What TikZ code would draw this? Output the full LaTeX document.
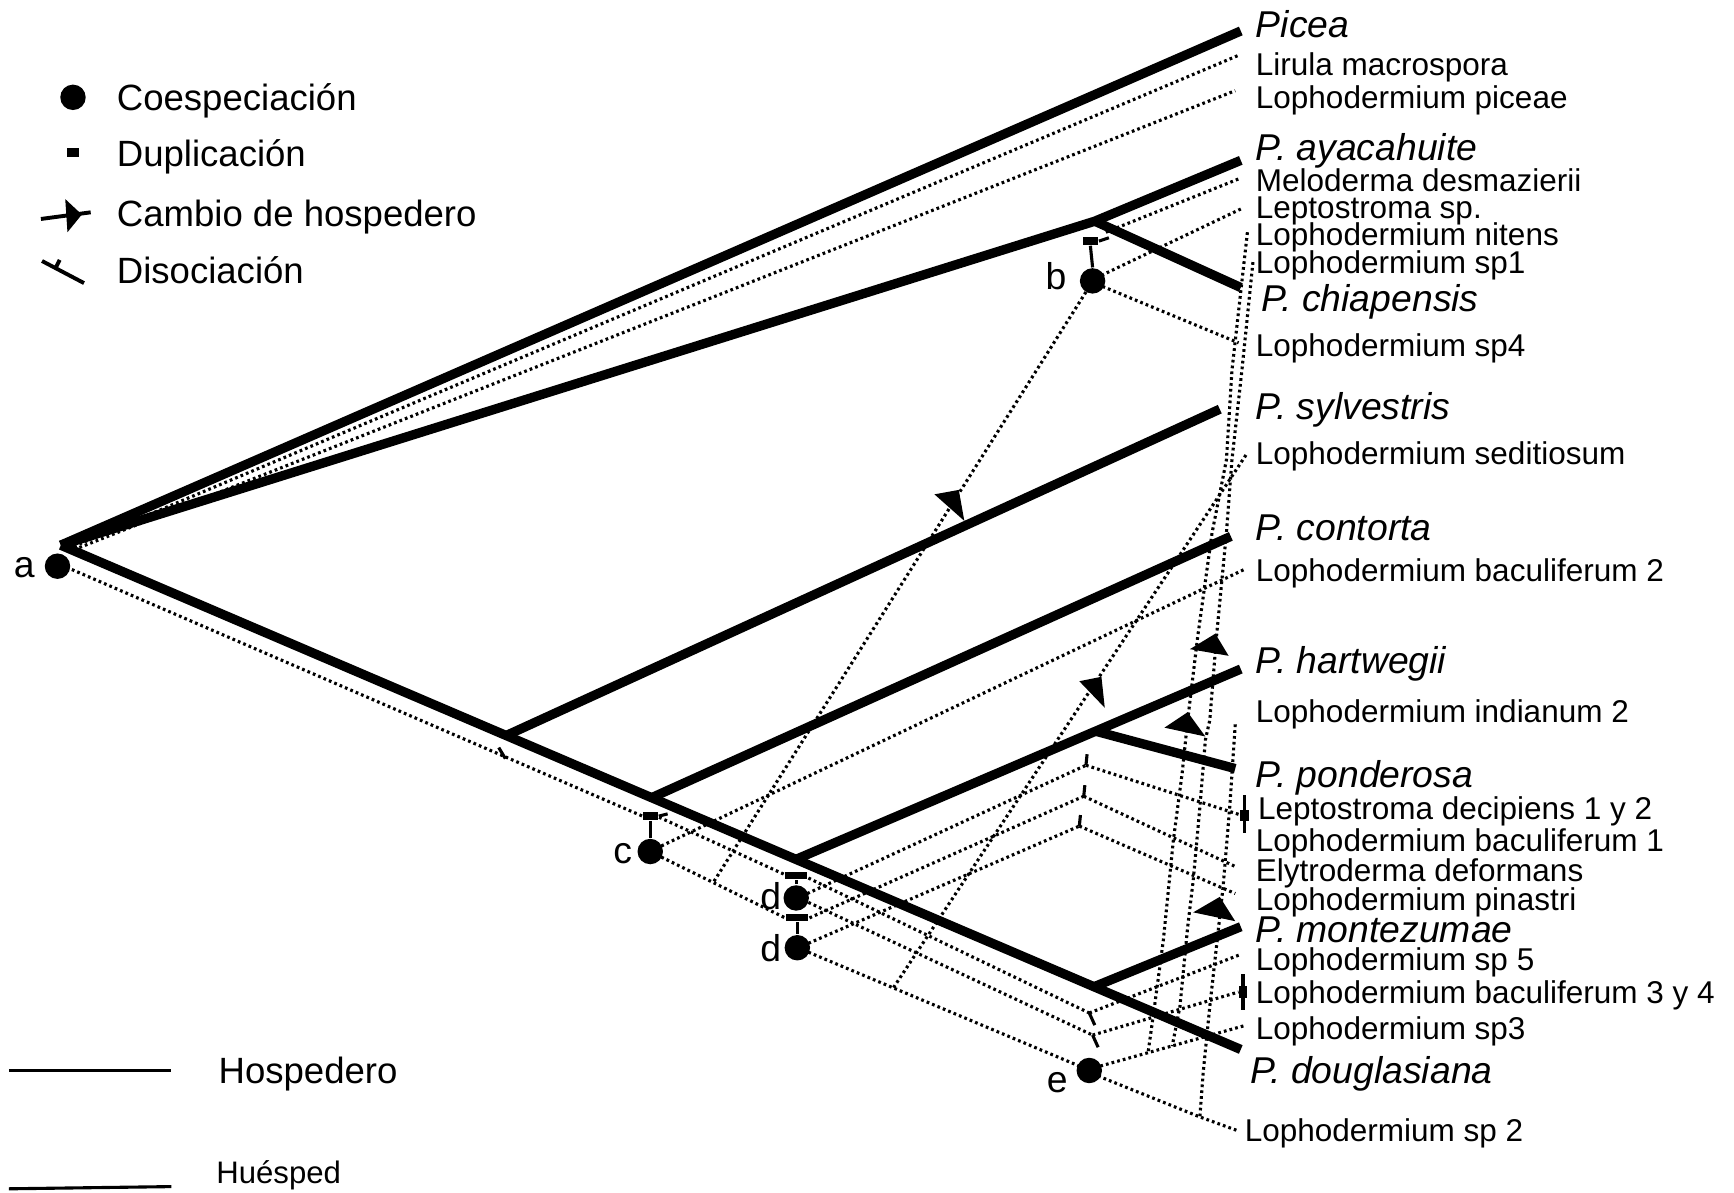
\documentclass[tikz,border=0pt]{standalone}
\usepackage{fontspec}
\setmainfont{Liberation Sans}
\begin{document}
\begin{tikzpicture}[x=0.01cm,y=-0.01cm,
  host/.style={line width=2.4pt, line join=round},
  para/.style={line width=0.8pt, dash pattern=on 0.7pt off 0.8pt},
  thinl/.style={line width=0.8pt},
  hlab/.style={anchor=base west, inner sep=0pt, font=\fontsize{9.6}{11}\selectfont\itshape},
  plab/.style={anchor=base west, inner sep=0pt, font=\fontsize{8.1}{10}\selectfont},
  llab/.style={anchor=base west, inner sep=0pt, font=\fontsize{9.4}{11}\selectfont},
  letter/.style={anchor=base, inner sep=0pt, font=\fontsize{9.6}{11}\selectfont},
  cospec/.style={circle, fill=black, inner sep=0pt, minimum size=0.23cm},
  dupl/.style={rectangle, fill=black, inner sep=0pt, minimum width=0.14cm, minimum height=0.07cm},
  dupw/.style={rectangle, fill=black, inner sep=0pt, minimum width=0.2cm, minimum height=0.065cm},
  crossbox/.style={rectangle, fill=black, inner sep=0pt, minimum width=0.08cm, minimum height=0.1cm},
]
\useasboundingbox (0,0) rectangle (1568,1078);

% ---------------- parasite (dotted) lines ----------------
% from a
\coordinate (aUp1) at (62,496);  \coordinate (LirE) at (1120,50);
\coordinate (aUp2) at (62,499);  \coordinate (PicE) at (1117,82);
\coordinate (aLow) at (65,515);  \coordinate (cDupW) at (581,738);
\draw[para] (aUp1) -- (LirE);
\draw[para] (aUp2) -- (PicE);
\draw[para] (aLow) -- (cDupW);

% from b
\coordinate (bT) at (1000,210);  \coordinate (MelE) at (1122,161);
\coordinate (bR1) at (996,249);  \coordinate (LepE) at (1122,189);
\coordinate (bR2) at (997,259);  \coordinate (Sp4E) at (1120,310);
\coordinate (bL) at (982,264);   \coordinate (cLowX) at (645,798);
\draw[para] (bT) -- (MelE);
\draw[para] (bR1) -- (LepE);
\draw[para] (bR2) -- (Sp4E);
\draw[para] (bL) -- (cLowX);

% from c
\coordinate (cR1) at (598,765);  \coordinate (Bac2E) at (1125,515);
\coordinate (cR2) at (598,775);  \coordinate (d2DupW) at (710,830);
\coordinate (cDupE) at (596,739); \coordinate (d1DupW) at (710,791);
\draw[para] (cR1) -- (Bac2E);
\draw[para] (cR2) -- (d2DupW);
\draw[para] (cDupE) -- (d1DupW);

% from d
\coordinate (J1) at (982,692);
\coordinate (J2) at (980,720);
\coordinate (J3) at (976,747);
\coordinate (J4) at (985,916);
\coordinate (J5) at (988,936);
\coordinate (eW) at (976,964);
\coordinate (Sw2) at (808,893);
\coordinate (SedE) at (1127,411);
\draw[para] (731,794) -- (J4);
\draw[para] (730,808) -- (J1);
\draw[para] (731,816) -- (J5);
\draw[para] (732,830) -- (J2);
\draw[para] (731,853) -- (J3);
\draw[para] (731,861) -- (eW);
\draw[para] (Sw2) -- (SedE);

% junctions to labels
\coordinate (DecE) at (1122,737);
\coordinate (ElyE) at (1118,784);
\coordinate (PinE) at (1117,808);
\coordinate (Sp5E) at (1122,863);
\coordinate (Bac34E) at (1120,897);
\coordinate (Sp3E) at (1127,927);
\coordinate (Sp2K) at (1085,1010);
\coordinate (Sp2E) at (1118,1022);
\draw[para] (J1) -- (DecE);
\draw[para] (J2) -- (ElyE);
\draw[para] (J3) -- (PinE);
\draw[para] (J4) -- (Sp5E);
\draw[para] (J5) -- (Bac34E);
\draw[para] (995,964) -- (Sp3E);
\draw[para] (993,973) -- (Sp2K) -- (Sp2E);

% near-vertical host-switch lines
\draw[para] (1128,210) -- (1114,335) -- (1109,416) -- (1096,482) -- (1083,576) -- (1074,651)
  -- (1069,699) -- (1061,760) -- (1052,850) -- (1044,910) -- (1038,953);
\draw[para] (1133,237) -- (1123,335) -- (1114,416) -- (1109,482) -- (1100,576) -- (1094,651)
  -- (1090,669) -- (1085,730) -- (1079,796) -- (1074,838) -- (1067,910) -- (1060,946);
\draw[para] (1117,655) -- (1112,730) -- (1106,802) -- (1094,910) -- (1088,970) -- (Sp2K);

% ---------------- host (thick) lines ----------------
\coordinate (R) at (55,493);
\coordinate (PiceaE) at (1122,28);
\coordinate (B) at (990,200);
\coordinate (AyaE) at (1122,145);
\coordinate (ChiE) at (1122,260);
\coordinate (S1) at (458,665);
\coordinate (SylE) at (1103,370);
\coordinate (S2) at (590,721);
\coordinate (ConE) at (1113,485);
\coordinate (S3) at (720,777);
\coordinate (HarE) at (1122,605);
\coordinate (S4) at (990,661);
\coordinate (PonE) at (1117,695);
\coordinate (S5) at (990,892);
\coordinate (MonE) at (1122,838);
\coordinate (DouE) at (1122,949);
\draw[host] (R) -- (PiceaE);
\draw[host] (R) -- (B) -- (AyaE);
\draw[host] (B) -- (ChiE);
\draw[host] (R) -- (DouE);
\draw[host] (S1) -- (SylE);
\draw[host] (S2) -- (ConE);
\draw[host] (S3) -- (HarE);
\draw[host] (S4) -- (PonE);
\draw[host] (S5) -- (MonE);

% ---------------- events ----------------
% loss ticks
\draw[thinl] (J1) -- (983,682);
\draw[thinl] (J2) -- (981,710);
\draw[thinl] (J3) -- (977,737);
\draw[thinl] (J4) -- (990,927);
\draw[thinl] (J5) -- (993,947);
\draw[thinl] (451,676) -- (457,686);
% crosses
\draw[thinl] (1125,719) -- (1125,753);
\node[crossbox] (x1) at (1125,737) {};
\draw[thinl] (1124,881) -- (1124,913);
\node[crossbox] (x2) at (1124,897) {};

% a
\node[cospec] (adot) at (52,512) {};
\node[letter] (alab) at (22,522) {a};
% b
\node[dupl] (bdup) at (986,218) {};
\node[cospec] (bdot) at (988,254) {};
\draw[thinl] (bdup.east) -- ++(9,-3);
\draw[thinl] (bdup.south) -- (bdot.north);
\node[letter] (blab) at (955,262) {b};
% c
\node[dupl] (cdup) at (588,738) {};
\node[cospec] (cdot) at (588,770) {};
\draw[thinl] (cdup.east) -- ++(8,-2);
\draw[thinl] (cdup.south) -- (cdot.north);
\node[letter] (clab) at (563,781) {c};
% d
\node[dupw] (d1dup) at (720,792) {};
\node[cospec] (d1dot) at (720,812) {};
\draw[thinl] (d1dup.south) -- (d1dot.north);
\node[letter] (d1lab) at (697,822) {d};
\node[dupw] (d2dup) at (721,830) {};
\node[cospec] (d2dot) at (721,857) {};
\draw[thinl] (d2dup.south) -- (d2dot.north);
\node[letter] (d2lab) at (697,869) {d};
% e
\node[cospec] (edot) at (985,968) {};
\node[letter] (elab) at (956,988) {e};

% host-switch triangles
\fill (1099,573) -- (1076,587) -- (1111,593) -- cycle;
\fill (1074,644) -- (1053,658) -- (1090,666) -- cycle;
\fill (1103,811) -- (1079,825) -- (1117,833) -- cycle;
\fill (845,447) -- (867,443) -- (872,471) -- cycle;
\fill (976,616) -- (996,612) -- (999,640) -- cycle;

% ---------------- labels ----------------
\node[hlab] (tPicea) at (1135,34) {Picea};
\node[plab] (tLir) at (1135,68) {Lirula macrospora};
\node[plab] (tLpic) at (1135,98) {Lophodermium piceae};
\node[hlab] (tAya) at (1135,145) {P. ayacahuite};
\node[plab] (tMel) at (1135,173) {Meloderma desmazierii};
\node[plab] (tLep) at (1135,198) {Leptostroma sp.};
\node[plab] (tNit) at (1135,222) {Lophodermium nitens};
\node[plab] (tSp1) at (1135,247) {Lophodermium sp1};
\node[hlab] (tChi) at (1140,282) {P. chiapensis};
\node[plab] (tSp4) at (1135,322) {Lophodermium sp4};
\node[hlab] (tSyl) at (1135,379) {P. sylvestris};
\node[plab] (tSed) at (1135,420) {Lophodermium seditiosum};
\node[hlab] (tCon) at (1135,489) {P. contorta};
\node[plab] (tBac2) at (1135,526) {Lophodermium baculiferum 2};
\node[hlab] (tHar) at (1135,609) {P. hartwegii};
\node[plab] (tInd) at (1135,653) {Lophodermium indianum 2};
\node[hlab] (tPon) at (1135,712) {P. ponderosa};
\node[plab] (tDec) at (1137,741) {Leptostroma decipiens 1 y 2};
\node[plab] (tBac1) at (1135,770) {Lophodermium baculiferum 1};
\node[plab] (tEly) at (1135,797) {Elytroderma deformans};
\node[plab] (tPin) at (1135,823) {Lophodermium pinastri};
\node[hlab] (tMon) at (1135,852) {P. montezumae};
\node[plab] (tSp5) at (1135,878) {Lophodermium sp 5};
\node[plab] (tBac34) at (1135,907) {Lophodermium baculiferum 3 y 4};
\node[plab] (tSp3) at (1135,940) {Lophodermium sp3};
\node[hlab] (tDou) at (1130,980) {P. douglasiana};
\node[plab] (tSp2) at (1125,1032) {Lophodermium sp 2};

% ---------------- legend ----------------
\node[cospec] (lg1) at (66,88) {};
\node[llab] (lt1) at (105,100) {Coespeciación};
\node[rectangle, fill=black, inner sep=0pt, minimum width=0.11cm, minimum height=0.08cm] (lg2) at (66,138) {};
\node[llab] (lt2) at (105,151) {Duplicación};
\coordinate (lg3a) at (37,198); \coordinate (lg3b) at (82,192);
\draw[line width=1pt] (lg3a) -- (lg3b);
\fill (59,180) -- (74,194) -- (61,210) -- cycle;
\node[llab] (lt3) at (105,205) {Cambio de hospedero};
\coordinate (lg4a) at (38,236); \coordinate (lg4b) at (76,256);
\draw[line width=1pt] (lg4a) -- (lg4b);
\draw[line width=1pt] (50,243) -- (54,235);
\node[llab] (lt4) at (105,256) {Disociación};

\coordinate (lh1) at (8,968); \coordinate (lh2) at (155,968);
\draw[line width=1pt] (lh1) -- (lh2);
\node[llab] (lth) at (197,980) {Hospedero};
\coordinate (lp1) at (8,1075); \coordinate (lp2) at (155,1073);
\draw[line width=0.8pt] (lp1) -- (lp2);
\node[anchor=base west, inner sep=0pt, font=\fontsize{8}{10}\selectfont] (ltp) at (195,1070) {Huésped};
\end{tikzpicture}
\end{document}
